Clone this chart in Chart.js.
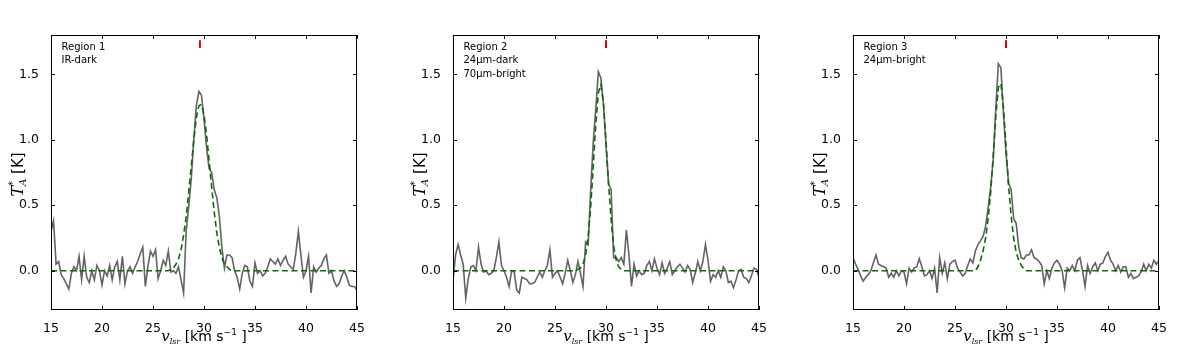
<!DOCTYPE html>
<html>
<head>
<meta charset="utf-8">
<script src="https://cdn.jsdelivr.net/npm/chart.js@4.4.1/dist/chart.umd.min.js"></script>
<style>
  body { margin: 0; background: #fff; width: 1200px; height: 346px; position: relative; overflow: hidden; }
  .panel { position: absolute; top: 0; width: 400px; height: 346px; }
</style>
</head>
<body>
<div class="panel" style="left:0px"><canvas id="c1" width="400" height="346"></canvas></div>
<div class="panel" style="left:402px"><canvas id="c2" width="400" height="346"></canvas></div>
<div class="panel" style="left:802px"><canvas id="c3" width="400" height="346"></canvas></div>
<script>
// channel velocities (km/s)
const velocity = [15, 15.25, 15.5, 15.75, 16, 16.25, 16.5, 16.75, 17, 17.25, 17.5, 17.75,
  18, 18.25, 18.5, 18.75, 19, 19.25, 19.5, 19.75, 20, 20.25, 20.5, 20.75, 21, 21.25, 21.5, 21.75,
  22, 22.25, 22.5, 22.75, 23, 23.25, 23.5, 23.75, 24, 24.25, 24.5, 24.75, 25, 25.25, 25.5, 25.75,
  26, 26.25, 26.5, 26.75, 27, 27.25, 27.5, 27.75, 28, 28.25, 28.5, 28.75, 29, 29.25, 29.5, 29.75,
  30, 30.25, 30.5, 30.75, 31, 31.25, 31.5, 31.75, 32, 32.25, 32.5, 32.75, 33, 33.25, 33.5, 33.75,
  34, 34.25, 34.5, 34.75, 35, 35.25, 35.5, 35.75, 36, 36.25, 36.5, 36.75, 37, 37.25, 37.5, 37.75,
  38, 38.25, 38.5, 38.75, 39, 39.25, 39.5, 39.75, 40, 40.25, 40.5, 40.75, 41, 41.25, 41.5, 41.75,
  42, 42.25, 42.5, 42.75, 43, 43.25, 43.5, 43.75, 44, 44.25, 44.5, 44.75, 45];

// T*A spectra (K)
const region1 = [
  0.30, 0.38, 0.05, 0.07, -0.03, -0.06, -0.10, -0.14,
  -0.02, 0.03, 0.00, 0.11, -0.07, 0.11, -0.05, -0.09,
  0.00, -0.07, 0.04, 0.00, -0.11, 0.00, -0.04, 0.04,
  -0.07, 0.03, 0.07, -0.07, 0.11, -0.10, 0.00, 0.03,
  -0.02, 0.03, 0.07, 0.13, 0.18, -0.12, 0.03, 0.15,
  0.11, 0.16, -0.06, 0.00, 0.08, 0.04, 0.15, -0.01,
  0.00, -0.02, 0.03, -0.07, -0.17, 0.30, 0.49, 0.70,
  1.00, 1.26, 1.37, 1.34, 1.16, 0.94, 0.78, 0.75,
  0.62, 0.56, 0.42, 0.18, 0.02, 0.12, 0.12, 0.10,
  0.00, -0.05, -0.14, -0.02, 0.04, 0.03, -0.08, -0.12,
  0.06, -0.02, 0.00, -0.04, -0.02, 0.03, 0.09, 0.07,
  0.05, 0.09, 0.04, 0.08, 0.11, 0.05, 0.03, 0.01,
  0.13, 0.30, 0.12, -0.05, 0.00, 0.11, -0.17, 0.03,
  -0.01, 0.02, 0.04, 0.09, 0.12, -0.02, 0.00, -0.08,
  -0.12, -0.10, -0.04, 0.00, -0.05, -0.11, -0.12, -0.12,
  -0.15];
const region2 = [
  -0.08, 0.12, 0.20, 0.12, 0.05, -0.21, -0.06, 0.03,
  0.04, 0.00, 0.18, 0.05, -0.01, 0.00, -0.03, -0.02,
  0.00, 0.10, 0.22, 0.04, 0.00, -0.05, -0.12, 0.00,
  -0.01, -0.15, -0.17, -0.05, -0.06, -0.07, -0.10, -0.10,
  -0.09, -0.05, -0.01, -0.05, 0.00, 0.04, 0.16, -0.05,
  -0.02, 0.00, -0.05, -0.10, -0.02, 0.08, 0.00, -0.09,
  -0.03, 0.07, -0.02, -0.12, 0.22, 0.20, 0.62, 0.98,
  1.24, 1.52, 1.47, 1.27, 0.96, 0.66, 0.62, 0.10,
  0.10, 0.07, 0.10, 0.05, 0.31, 0.12, -0.12, 0.05,
  -0.04, 0.00, -0.03, -0.02, 0.04, 0.07, 0.00, 0.09,
  0.02, -0.03, 0.06, -0.02, 0.02, 0.07, -0.03, 0.00,
  0.03, 0.05, 0.02, -0.01, 0.04, 0.01, -0.09, -0.02,
  0.07, 0.00, 0.07, 0.20, 0.08, -0.08, -0.03, -0.05,
  0.00, -0.05, 0.03, 0.00, -0.09, -0.08, -0.13, -0.07,
  0.00, 0.01, -0.05, -0.06, -0.09, -0.04, 0.02, 0.01,
  -0.05];
const region3 = [
  0.10, 0.05, 0.01, -0.04, -0.08, -0.05, -0.03, 0.00,
  0.06, 0.12, 0.05, 0.04, 0.03, 0.02, -0.05, -0.02,
  -0.05, 0.00, -0.04, 0.00, -0.01, -0.10, 0.02, -0.01,
  0.02, 0.03, 0.09, 0.03, -0.04, -0.03, 0.00, -0.06,
  0.02, -0.17, 0.10, -0.02, 0.06, -0.06, 0.05, 0.07,
  0.08, 0.02, -0.01, -0.04, -0.02, 0.04, 0.09, 0.06,
  0.15, 0.20, 0.23, 0.26, 0.34, 0.48, 0.64, 0.85,
  1.24, 1.58, 1.55, 1.20, 0.90, 0.67, 0.62, 0.40,
  0.36, 0.18, 0.10, 0.09, 0.12, 0.12, 0.16, 0.10,
  0.09, 0.07, 0.04, -0.10, 0.00, -0.06, 0.02, 0.06,
  0.08, 0.05, 0.00, -0.13, 0.02, 0.00, 0.04, 0.00,
  0.08, 0.10, 0.00, -0.12, 0.04, -0.02, 0.03, 0.06,
  0.00, 0.05, 0.06, 0.11, 0.14, 0.08, 0.05, 0.00,
  0.04, -0.01, 0.03, 0.03, -0.05, -0.02, -0.06, -0.05,
  -0.04, -0.01, 0.05, 0.00, 0.05, 0.02, 0.08, 0.05,
  0.08];

// gaussian fits
const fitVelocity = [15, 26.5, 26.75, 27, 27.25, 27.5, 27.75, 28, 28.25, 28.5, 28.75, 29, 29.25, 29.5,
  29.75, 30, 30.25, 30.5, 30.75, 31, 31.25, 31.5, 31.75, 32, 32.25, 32.5, 32.75, 33, 45];
const fit1 = [0, 0, 0.01, 0.02, 0.05, 0.09, 0.16, 0.27, 0.41, 0.60, 0.80, 1.00, 1.17, 1.26,
  1.27, 1.19, 1.04, 0.84, 0.64, 0.45, 0.29, 0.18, 0.10, 0.05, 0.03, 0.01, 0, 0, 0];
const fit2 = [0, 0, 0, 0, 0.01, 0.02, 0.05, 0.12, 0.26, 0.49, 0.80, 1.12, 1.36, 1.42,
  1.28, 0.99, 0.67, 0.39, 0.19, 0.08, 0.03, 0.01, 0, 0, 0, 0, 0, 0, 0];
const fit3 = [0, 0, 0, 0, 0.03, 0.08, 0.15, 0.25, 0.40, 0.60, 0.88, 1.18, 1.40, 1.43,
  1.25, 0.95, 0.65, 0.42, 0.25, 0.14, 0.08, 0.04, 0.015, 0, 0, 0, 0, 0, 0];

// red velocity markers
const markerVelocity = [29.6, 30.0, 30.0];
const markerRange = [1.70, 1.76];

const regionNotes = [
  ['Region 1', 'IR-dark'],
  ['Region 2', '24\u03bcm-dark', '70\u03bcm-bright'],
  ['Region 3', '24\u03bcm-bright']
];

const xTicks = [15, 20, 25, 30, 35, 40, 45];
const yTicks = [0.0, 0.5, 1.0, 1.5];

function drawRich(ctx, parts, cx, base) {
  let w = 0;
  parts.forEach(p => {
    ctx.font = p.font;
    p.w = ctx.measureText(p.t).width;
    if (!p.stay) w += p.w;
  });
  let px = cx - w / 2;
  ctx.textAlign = 'left';
  ctx.textBaseline = 'alphabetic';
  parts.forEach(p => {
    ctx.font = p.font;
    ctx.fillText(p.t, px, base + (p.dy || 0));
    if (!p.stay) px += p.w;
  });
}

const framePlugin = {
  id: 'frame',
  afterDraw(chart) {
    const { ctx, chartArea: a, scales: { x, y } } = chart;
    const notes = chart.options.plugins.frame.notes;
    ctx.save();
    ctx.strokeStyle = '#000';
    ctx.lineWidth = 1;
    ctx.strokeRect(a.left + 0.5, a.top + 0.5, a.width - 1, a.height - 1);
    ctx.beginPath();
    xTicks.forEach(v => {
      const px = Math.round(x.getPixelForValue(v)) + 0.5;
      ctx.moveTo(px, a.bottom); ctx.lineTo(px, a.bottom - 4);
      ctx.moveTo(px, a.top); ctx.lineTo(px, a.top + 4);
    });
    yTicks.forEach(v => {
      const py = Math.round(y.getPixelForValue(v)) + 0.5;
      ctx.moveTo(a.left, py); ctx.lineTo(a.left + 4, py);
      ctx.moveTo(a.right, py); ctx.lineTo(a.right - 4, py);
    });
    ctx.stroke();

    ctx.fillStyle = '#000';
    ctx.font = '10px "DejaVu Sans"';
    ctx.textAlign = 'left';
    ctx.textBaseline = 'alphabetic';
    notes.forEach((line, i) => ctx.fillText(line, a.left + 10.5, a.top + 15 + i * 13.3));

    drawRich(ctx, [
      { t: 'v', font: 'italic 15px "DejaVu Serif"' },
      { t: 'lsr', font: 'italic 8px "DejaVu Serif"', dy: 3 },
      { t: ' [km s', font: '14px "DejaVu Sans"' },
      { t: '\u22121', font: '9px "DejaVu Sans"', dy: -6 },
      { t: ' ]', font: '14px "DejaVu Sans"' }
    ], (a.left + a.right) / 2, 341);

    ctx.translate(23, (a.top + a.bottom) / 2 + 2);
    ctx.rotate(-Math.PI / 2);
    drawRich(ctx, [
      { t: 'T', font: 'italic 16px "DejaVu Serif"' },
      { t: '*', font: '10px "DejaVu Sans"', dy: -7, stay: true },
      { t: 'A', font: 'italic 10px "DejaVu Serif"', dy: 3 },
      { t: ' [K]', font: '15px "DejaVu Sans"' }
    ], 0, 0);
    ctx.restore();
  }
};

function makePanel(id, spectrum, fit, marker, notes) {
  new Chart(document.getElementById(id), {
    type: 'line',
    data: {
      datasets: [
        {
          data: [{ x: marker, y: markerRange[0] }, { x: marker, y: markerRange[1] }],
          borderColor: '#e00000', borderWidth: 2, pointRadius: 0, order: 0
        },
        {
          data: fitVelocity.map((v, i) => ({ x: v, y: fit[i] })),
          borderColor: '#0b6b0b', borderWidth: 1.6, borderDash: [6, 3.5],
          pointRadius: 0, tension: 0, order: 1
        },
        {
          data: velocity.map((v, i) => ({ x: v, y: spectrum[i] })),
          borderColor: '#636363', borderWidth: 1.6, pointRadius: 0, tension: 0, order: 2
        }
      ]
    },
    options: {
      responsive: false,
      animation: false,
      devicePixelRatio: 1,
      layout: { padding: { top: 35, right: 43, left: 0, bottom: 0 } },
      plugins: { legend: { display: false }, tooltip: { enabled: false }, frame: { notes } },
      scales: {
        x: {
          type: 'linear', min: 15, max: 45,
          afterBuildTicks: s => { s.ticks = xTicks.map(v => ({ value: v })); },
          afterFit: s => { s.height = 36; },
          grid: { display: false }, border: { display: false },
          ticks: { color: '#000', padding: 3, maxRotation: 0, autoSkip: false,
                   font: { family: 'DejaVu Sans', size: 12.5 }, callback: v => String(v) }
        },
        y: {
          type: 'linear', min: -0.3, max: 1.8,
          afterBuildTicks: s => { s.ticks = yTicks.map(v => ({ value: v })); },
          afterFit: s => { s.width = 51; },
          grid: { display: false }, border: { display: false },
          ticks: { color: '#000', padding: 4,
                   font: { family: 'DejaVu Sans', size: 12.5 }, callback: v => v.toFixed(1) }
        }
      }
    },
    plugins: [framePlugin]
  });
}

makePanel('c1', region1, fit1, markerVelocity[0], regionNotes[0]);
makePanel('c2', region2, fit2, markerVelocity[1], regionNotes[1]);
makePanel('c3', region3, fit3, markerVelocity[2], regionNotes[2]);
</script>
</body>
</html>
